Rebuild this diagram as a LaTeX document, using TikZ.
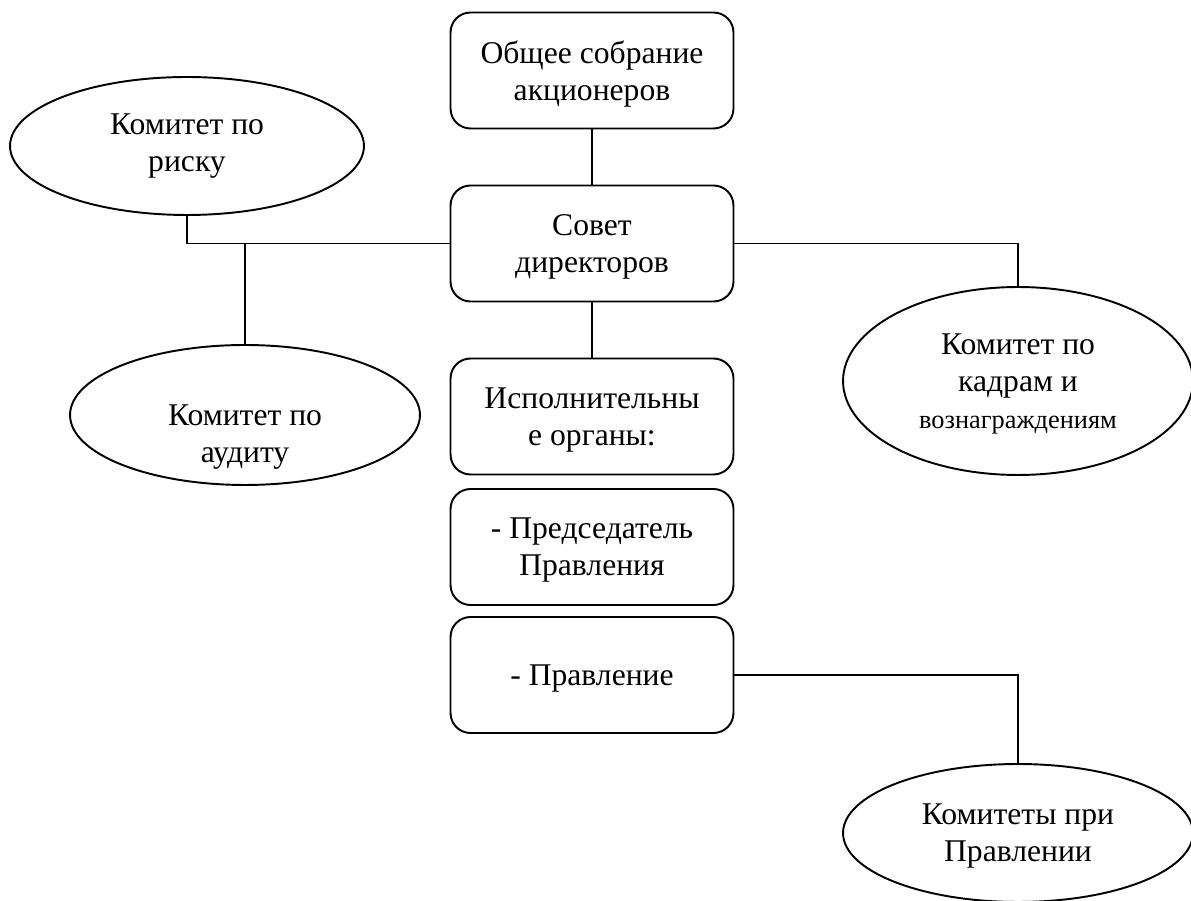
\documentclass[tikz,border=0pt]{standalone}
\usepackage{fontspec}
\setmainfont{Liberation Serif}
\usetikzlibrary{shapes.geometric}

\begin{document}
\begin{tikzpicture}[x=0.02cm, y=-0.02cm, boxStyle/.style={rectangle, draw, rounded corners=0.4cm, line width=1.1pt, minimum width=5.66cm, minimum height=2.32cm, align=center, text depth=-6pt, font=\fontsize{18}{21}\selectfont}, ovalStyle/.style={ellipse, draw, line width=1.1pt, inner sep=0pt, align=center, font=\fontsize{18}{21}\selectfont}, textStyle/.style={align=center, inner sep=0pt, font=\fontsize{18}{21}\selectfont}, lineStyle/.style={line width=0.6pt}]
    \useasboundingbox (0,0) rectangle (1191,901);

    % central column
    \node[boxStyle] (meeting)  at (592,  70.5) {Общее собрание\\акционеров};
    \node[boxStyle] (board)    at (592, 243.5) {Совет\\директоров};
    \node[boxStyle] (exec)     at (592, 416.5) {Исполнительны\\е органы:};
    \node[boxStyle] (chairman) at (592,   547) {- Председатель\\Правления};
    \node[boxStyle] (mgmt)     at (592,   675) {- Правление};

    % committees
    \node[ovalStyle, minimum width=7.08cm, minimum height=2.76cm] (risk)  at ( 187, 146) {Комитет по\\риску};
    \node[ovalStyle, minimum width=7cm,    minimum height=2.8cm]  (audit) at ( 245, 415) {};
    \node[textStyle] (auditText) at (245, 437) {Комитет по\\аудиту};
    \node[ovalStyle, minimum width=7cm,    minimum height=3.76cm, text depth=-2pt] (staff) at (1018, 381) {Комитет по\\кадрам и\\{\fontsize{15}{21}\selectfont вознаграждениям}};
    \node[ovalStyle, minimum width=7cm,    minimum height=2.76cm, text depth=-6pt] (mgmtCom) at (1018, 833) {Комитеты при\\Правлении};

    \draw[lineStyle] (meeting) -- (board);
    \draw[lineStyle] (board) -- (exec);

    \draw[lineStyle] (risk.south) |- (board.west);
    \draw[lineStyle] (audit.north) -- (audit.north |- board.west);
    \draw[lineStyle] (board.east) -| (staff.north);
    \draw[lineStyle] (mgmt.east) -| (mgmtCom.north);
\end{tikzpicture}
\end{document}
